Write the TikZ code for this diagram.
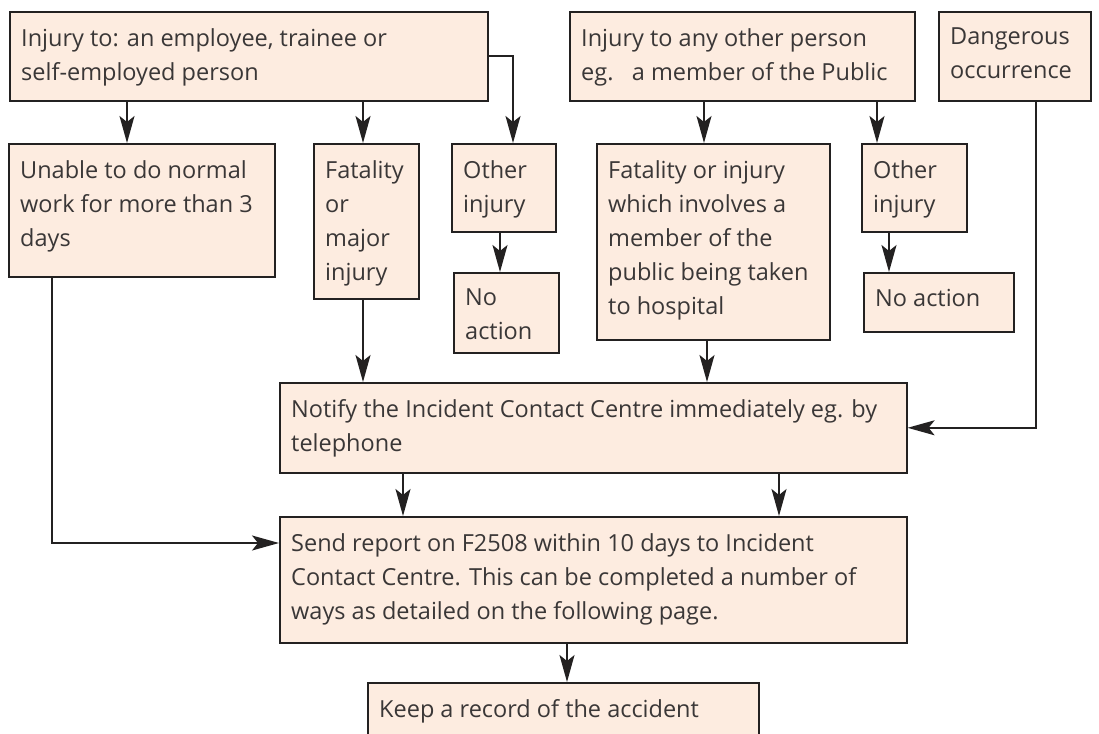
\documentclass[tikz,border=0pt]{standalone}
\usepackage{fontspec}
\setmainfont{Open Sans}
\usetikzlibrary{arrows.meta}
\definecolor{boxfill}{RGB}{253,236,224}
\definecolor{ink}{RGB}{35,33,33}
\definecolor{txtc}{RGB}{58,55,55}
\newcommand{\flowbox}[6]{%
  \node[box, minimum width={(#4-#2)*1pt}, minimum height={(#5-#3)*1pt}] (#1) at (#2,#3) {};
  \node[txt] (#1-t) at ([shift={(12pt,-17pt)}]#1.north west) {#6};}
\begin{document}
\begin{tikzpicture}[x=1pt,y=-1pt,
  box/.style={draw=ink, line width=1.6pt, fill=boxfill, inner sep=0pt, anchor=north west},
  txt/.style={text=txtc, font=\fontsize{23.5}{34}\selectfont, align=left, inner sep=0pt, anchor=north west},
  arr/.style={draw=ink, line width=1.6pt, -{Stealth[length=27pt,width=15pt,inset=6pt]}},
  ln/.style={draw=ink, line width=1.6pt}]
\clip (0,0) rectangle (1099,733);
\fill[white] (0,0) rectangle (1099,733);
% helper coordinates for connector positions
\coordinate (c52) at (52,0);
\coordinate (c127) at (127,0);
\coordinate (c363) at (363,0);
\coordinate (c403) at (403,0);
\coordinate (c500) at (500,0);
\coordinate (c513) at (513,0);
\coordinate (c567) at (567,0);
\coordinate (c704) at (704,0);
\coordinate (c707) at (707,0);
\coordinate (c779) at (779,0);
\coordinate (c877) at (877,0);
\coordinate (c889) at (889,0);
\coordinate (c1036) at (1036,0);
\coordinate (r543) at (0,543);
% boxes
\flowbox{A}{9}{11}{487}{100}{Injury to: an employee, trainee or\\self-employed person}
\flowbox{B}{569}{11}{914}{100}{Injury to any other person\\eg.\ \ \ a member of the Public}
\flowbox{C}{938}{11}{1090}{100}{Dangerous\\occurrence}
\flowbox{D}{8}{143}{274}{276}{Unable to do normal\\work for more than 3\\days}
\flowbox{E}{313}{143}{418}{298}{Fatality\\or\\major\\injury}
\flowbox{F}{451}{143}{555}{231}{Other\\injury}
\flowbox{G}{596}{143}{829}{339}{Fatality or injury\\which involves a\\member of the\\public being taken\\to hospital}
\flowbox{H}{861}{143}{966}{231}{Other\\injury}
\flowbox{I}{453}{272}{558}{352}{No\\action}
\flowbox{J}{863}{272}{1013}{331}{No action}
\flowbox{K}{279}{382}{906}{472}{Notify the Incident Contact Centre immediately eg. by\\telephone}
\flowbox{L}{279}{516}{906}{642}{Send report on F2508 within 10 days to Incident\\Contact Centre. This can be completed a number of\\ways as detailed on the following page.}
\flowbox{M}{367}{682}{758}{770}{Keep a record of the accident}
% connectors
\draw[arr] (A.south -| c127) -- (D.north -| c127);
\draw[arr] (A.south -| c363) -- (E.north -| c363);
\draw[arr] (A.east) -| (F.north -| c513);
\draw[arr] (B.south -| c704) -- (G.north -| c704);
\draw[arr] (B.south -| c877) -- (H.north -| c877);
\draw[arr] (F.south -| c500) -- (I.north -| c500);
\draw[arr] (H.south -| c889) -- (J.north -| c889);
\draw[arr] (C.south -| c1036) |- (K.east);
\draw[arr] (E.south -| c363) -- (K.north -| c363);
\draw[arr] (G.south -| c707) -- (K.north -| c707);
\draw[arr] (K.south -| c403) -- (L.north -| c403);
\draw[arr] (K.south -| c779) -- (L.north -| c779);
\draw[arr] (D.south -| c52) |- (L.west |- r543);
\draw[arr] (L.south -| c567) -- (M.north -| c567);
\end{tikzpicture}
\end{document}
